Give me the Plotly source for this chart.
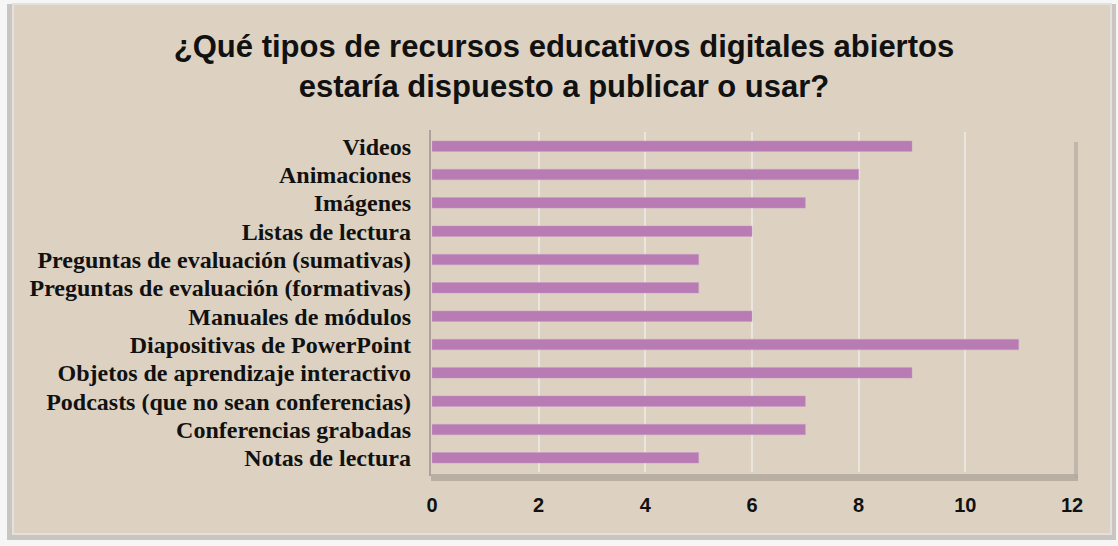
import plotly.graph_objects as go

categories = [
    "Videos",
    "Animaciones",
    "Imágenes",
    "Listas de lectura",
    "Preguntas de evaluación (sumativas)",
    "Preguntas de evaluación (formativas)",
    "Manuales de módulos",
    "Diapositivas de PowerPoint",
    "Objetos de aprendizaje interactivo",
    "Podcasts (que no sean conferencias)",
    "Conferencias grabadas",
    "Notas de lectura",
]
values = [9, 8, 7, 6, 5, 5, 6, 11, 9, 7, 7, 5]
tick_vals = [0, 2, 4, 6, 8, 10, 12]
title_text = "¿Qué tipos de recursos educativos digitales abiertos<br>estaría dispuesto a publicar o usar?"

BG = "#ddd2c2"
W, H = 1118, 546
L, R, T, B = 432, 46, 132, 74
pw, ph = W - L - R, H - T - B


def px_x(p):
    return (p - L) / pw


def px_y(p):
    return (H - B - p) / ph


fig = go.Figure(
    go.Bar(
        x=values,
        y=categories,
        orientation="h",
        width=0.37,
        marker=dict(color="#b87bb4", line=dict(color="#c99ac6", width=0.5)),
    )
)

shapes = [
    # outer shadow
    dict(type="rect", xref="paper", yref="paper", layer="below",
         x0=px_x(7), x1=px_x(1116), y0=px_y(540), y1=px_y(4),
         fillcolor="#c9c6c1", line=dict(width=0)),
    # outer panel
    dict(type="rect", xref="paper", yref="paper", layer="below",
         x0=px_x(13), x1=px_x(1111), y0=px_y(534), y1=px_y(4),
         fillcolor=BG, line=dict(color="#e4e1dc", width=2)),
    # plot frame bottom shadow
    dict(type="rect", xref="paper", yref="paper", layer="below",
         x0=px_x(431), x1=px_x(1078), y0=px_y(481), y1=px_y(474),
         fillcolor="#a9a196", line=dict(width=0), opacity=0.7),
    # plot frame right shadow
    dict(type="rect", xref="paper", yref="paper", layer="below",
         x0=px_x(1074), x1=px_x(1078), y0=px_y(478), y1=px_y(142),
         fillcolor="#b3aba0", line=dict(width=0), opacity=0.7),
    # plot frame left line
    dict(type="line", xref="paper", yref="paper", layer="above",
         x0=px_x(430), x1=px_x(430), y0=px_y(476), y1=px_y(130),
         line=dict(color="#9b958d", width=1.5)),
]

fig.update_layout(
    width=W,
    height=H,
    margin=dict(l=L, r=R, t=T, b=B),
    paper_bgcolor="#f6f6f6",
    plot_bgcolor="rgba(0,0,0,0)",
    showlegend=False,
    shapes=shapes,
    title=dict(
        text=title_text,
        x=564 / W,
        xref="container",
        xanchor="center",
        y=1 - 57 / H,
        yanchor="middle",
        font=dict(family="Liberation Sans, Arial, sans-serif", size=31, color="#111111", weight="bold"),
    ),
    xaxis=dict(
        range=[0, 12],
        tickvals=tick_vals,
        ticktext=[str(v) for v in tick_vals],
        showgrid=True,
        gridcolor="#e9e5df",
        gridwidth=2,
        zeroline=False,
        showline=False,
        ticks="",
        ticklabelstandoff=19,
        tickfont=dict(family="Liberation Sans, Arial, sans-serif", size=20, color="#111111", weight="bold"),
        fixedrange=True,
    ),
    yaxis=dict(
        autorange="reversed",
        tickmode="array",
        tickvals=categories,
        ticktext=categories,
        showgrid=False,
        zeroline=False,
        showline=False,
        ticks="",
        ticklabelstandoff=20,
        tickfont=dict(family="Liberation Serif, Times New Roman, serif", size=24, color="#111111", weight="bold"),
        fixedrange=True,
    ),
)

fig.write_html(
    "out.html",
    config={"displayModeBar": False},
    post_script="document.body.style.margin='0';document.body.style.overflow='hidden';",
)
